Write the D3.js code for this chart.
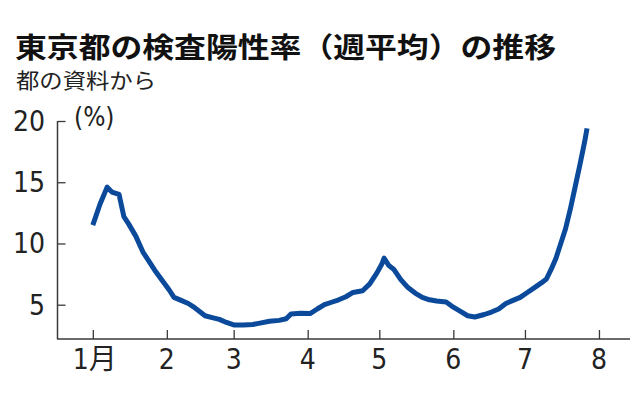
<!DOCTYPE html>
<html><head><meta charset="utf-8">
<script src="https://cdn.jsdelivr.net/npm/d3@7"></script>
<style>
html,body{margin:0;padding:0;background:#fff;}
svg{display:block;}
</style></head>
<body>
<svg id="c" width="640" height="409"></svg>
<script>
const titleText = "東京都の検査陽性率（週平均）の推移";
const subtitleText = "都の資料から";
const unitText = "(%)";
const yTicks = [5, 10, 15, 20];
const xTickDates = ["2021-01-01","2021-02-01","2021-03-01","2021-04-01","2021-05-01","2021-06-01","2021-07-01","2021-08-01"];
const xTickLabels = ["1月","2","3","4","5","6","7","8"];
const dates = ["2021-01-01","2021-01-04","2021-01-07","2021-01-09","2021-01-12","2021-01-14","2021-01-16","2021-01-19","2021-01-22","2021-01-24","2021-01-27","2021-01-30",
"2021-02-02","2021-02-04","2021-02-07","2021-02-10","2021-02-12","2021-02-15","2021-02-17","2021-02-20","2021-02-23","2021-02-26",
"2021-03-01","2021-03-05","2021-03-09","2021-03-12","2021-03-16","2021-03-20","2021-03-23","2021-03-25","2021-03-29",
"2021-04-02","2021-04-05","2021-04-08","2021-04-11","2021-04-14","2021-04-17","2021-04-20","2021-04-24","2021-04-27","2021-04-30",
"2021-05-02","2021-05-03","2021-05-05","2021-05-07","2021-05-10","2021-05-13","2021-05-16","2021-05-19","2021-05-22","2021-05-25","2021-05-29",
"2021-06-01","2021-06-04","2021-06-07","2021-06-10","2021-06-14","2021-06-17","2021-06-20","2021-06-23","2021-06-26","2021-06-29",
"2021-07-02","2021-07-05","2021-07-08","2021-07-10","2021-07-12","2021-07-14","2021-07-16","2021-07-18","2021-07-20","2021-07-22","2021-07-24","2021-07-26","2021-07-27"];
const values = [11.5,13.2,14.6,14.2,14.0,12.2,11.6,10.6,9.3,8.7,7.8,7.0,
6.2,5.6,5.35,5.1,4.85,4.4,4.1,3.95,3.8,3.55,
3.35,3.35,3.38,3.5,3.65,3.72,3.85,4.25,4.3,
4.28,4.65,5.0,5.2,5.4,5.65,6.0,6.14,6.7,7.6,
8.3,8.8,8.2,7.9,7.05,6.4,5.95,5.6,5.4,5.3,5.22,
4.8,4.45,4.1,4.0,4.2,4.4,4.65,5.1,5.35,5.6,
6.0,6.4,6.8,7.1,7.9,8.8,10.0,11.2,12.8,14.6,16.4,18.3,19.4];

const parse = d3.utcParse("%Y-%m-%d");
const data = dates.map((d,i)=>({date:parse(d), v:values[i]}));

const svg = d3.select("#c");
const axisColor = "#3a3a3a";
const numFont = "'Liberation Sans Narrow','DejaVu Sans Condensed','Noto Sans CJK JP',sans-serif";

const x = d3.scaleUtc().domain([parse("2020-12-17"), parse("2021-08-14")]).range([57, 630]);
const y = d3.scaleLinear().domain([2.2, 20]).range([339, 121]);

svg.append("text").attr("x",15).attr("y",58)
  .attr("font-family","'Noto Sans CJK JP',sans-serif").attr("font-weight",700)
  .attr("font-size",28).attr("fill","#111")
  .attr("textLength",541).attr("lengthAdjust","spacingAndGlyphs").text(titleText);
svg.append("text").attr("x",16).attr("y",88)
  .attr("font-family","'Noto Sans CJK JP',sans-serif").attr("font-weight",400)
  .attr("font-size",21).attr("fill","#222")
  .attr("textLength",140).attr("lengthAdjust","spacingAndGlyphs").text(subtitleText);

// y axis
const yAxis = d3.axisRight(y).tickValues(yTicks).tickSize(8).tickFormat("");
const gy = svg.append("g").attr("transform","translate(57.5,0)").call(yAxis);
gy.select(".domain").remove();
gy.selectAll(".tick line").attr("stroke",axisColor).attr("stroke-width",1.3);
svg.append("line").attr("x1",57.5).attr("x2",57.5).attr("y1",y(20)).attr("y2",339)
  .attr("stroke",axisColor).attr("stroke-width",1.5);
svg.append("g").selectAll("text").data(yTicks).join("text")
  .attr("x",45).attr("y",d=>y(d)+10).attr("text-anchor","end")
  .attr("font-family",numFont).attr("font-size",28).attr("fill","#222").text(d=>d);
svg.append("text").attr("x",74).attr("y",126)
  .attr("font-family",numFont).attr("font-size",26).attr("fill","#222").text(unitText);

// x axis
const xAxis = d3.axisTop(x).tickValues(xTickDates.map(parse)).tickSize(9).tickFormat("");
const gx = svg.append("g").attr("transform","translate(0,339)").call(xAxis);
gx.select(".domain").remove();
gx.selectAll(".tick line").attr("stroke",axisColor).attr("stroke-width",1.3);
svg.append("line").attr("x1",57).attr("x2",630).attr("y1",339).attr("y2",339)
  .attr("stroke",axisColor).attr("stroke-width",1.5);
svg.append("g").selectAll("text").data(xTickDates).join("text")
  .attr("x",(d,i)=>x(parse(d)) + (i===0?2:0)).attr("y",369).attr("text-anchor","middle")
  .attr("font-family",numFont).attr("font-size",28).attr("fill","#222").text((d,i)=>xTickLabels[i]);

// line
const line = d3.line().x(d=>x(d.date)).y(d=>y(d.v)).curve(d3.curveLinear);
svg.append("path").datum(data).attr("d",line).attr("fill","none")
  .attr("stroke","#0b4a9b").attr("stroke-width",5).attr("stroke-linejoin","round");
</script>
</body></html>
